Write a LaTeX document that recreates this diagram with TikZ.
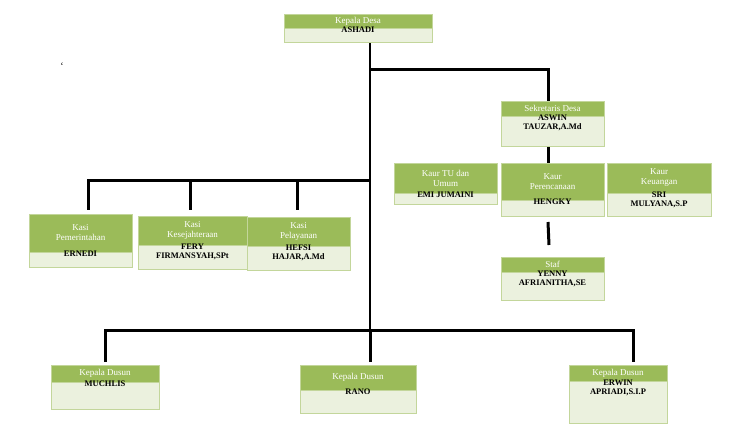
\documentclass[tikz,border=0pt]{standalone}
\usepackage{fontspec}
\setmainfont{Liberation Serif}
\definecolor{hdgreen}{HTML}{9BBB59}
\definecolor{bdgreen}{HTML}{EBF1DE}
\definecolor{edgreen}{HTML}{C3D69B}
\tikzset{
  hd/.style={fill=hdgreen,draw=edgreen,line width=0.8pt},
  bd/.style={fill=bdgreen,draw=edgreen,line width=0.8pt},
  ht/.style={text=white,font=\fontsize{9}{10}\selectfont,align=center,inner sep=0pt},
  bt/.style={text=black,font=\bfseries\fontsize{8.5}{9.5}\selectfont,align=center,inner sep=0pt},
  wire/.style={line width=3pt}
}
% box: x1,x2,ytop,ymid,ybot,name,title,person
\newcommand{\orgbox}[8]{%
  \path[bd] (#1,#4) rectangle (#2,#5);
  \path[hd] (#1,#3) rectangle (#2,#4);
  \coordinate (#6-t) at ({(#1+#2)/2},#3);
  \coordinate (#6-b) at ({(#1+#2)/2},#5);
  \node[ht] (#6-h) at ({(#1+#2)/2},{(#3+#4)/2}) {#7};
  \node[bt,anchor=north] (#6-p) at ({(#1+#2)/2},{#4-1.5}) {#8};
}
\begin{document}
\begin{tikzpicture}[x=1pt,y=-1pt]
\useasboundingbox (0,0) rectangle (738,433);
% lines
\coordinate (top) at (370,42);
\coordinate (mid) at (370,335);
\draw[line width=2.2pt] (top) -- (mid);
\draw[wire] (370,70) -- (548,70) -- (548,101);
\draw[wire] (548,146) -- (548,163);
\draw[wire] (548,222) -- (549,245);
\draw[wire] (370,180) -- (88,180) -- (88,210);
\draw[wire] (190,180) -- (190,210);
\draw[wire] (297,180) -- (297,210);
\draw[wire] (105,362) -- (105,330) -- (633,330) -- (633,362);
\draw[wire] (370,330) -- (370,362);
% boxes
\orgbox{284}{432}{14}{28}{42}{kades}{Kepala Desa}{ASHADI}
\orgbox{501}{604}{101}{116}{146}{sekdes}{Sekretaris Desa}{ASWIN\\TAUZAR,A.Md}
\orgbox{394}{497}{163}{193}{204}{tu}{Kaur TU dan\\Umum}{EMI JUMAINI}
\orgbox{501}{604}{163}{200}{216}{renc}{Kaur\\Perencanaan}{HENGKY}
\orgbox{607}{711}{163}{193}{216}{keu}{Kaur\\Keuangan}{SRI\\MULYANA,S.P}
\orgbox{501}{604}{257}{272}{300}{staf}{Staf}{YENNY\\AFRIANITHA,SE}
\orgbox{29}{132}{214}{252}{267}{pem}{Kasi\\Pemerintahan}{ERNEDI}
\orgbox{138}{247}{216}{245}{269}{kes}{Kasi\\Kesejahteraan}{FERY\\FIRMANSYAH,SPt}
\orgbox{247}{350}{217}{246}{270}{pel}{Kasi\\Pelayanan}{HEFSI\\HAJAR,A.Md}
\orgbox{51}{159}{365}{382}{409}{dus1}{Kepala Dusun}{MUCHLIS}
\orgbox{300}{416}{365}{390}{413}{dus2}{Kepala Dusun}{RANO}
\orgbox{569}{667}{365}{381}{423}{dus3}{Kepala Dusun}{ERWIN\\APRIADI,S.I.P}
\node (tick) at (62,66) {`};
\end{tikzpicture}
\end{document}
